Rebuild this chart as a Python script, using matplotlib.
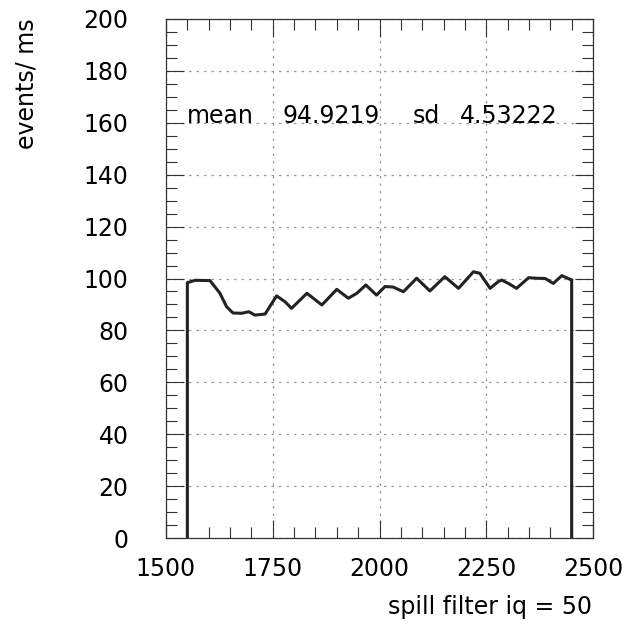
import matplotlib
matplotlib.use("Agg")
import matplotlib.pyplot as plt
from matplotlib.ticker import MultipleLocator

# spill profile: time bin (ms) and rate (events/ms)
time_ms = [1550, 1550, 1568, 1603, 1626, 1642, 1657, 1677, 1694, 1708, 1732,
           1759, 1779, 1794, 1830, 1865, 1900, 1927, 1947, 1968, 1993, 2013,
           2032, 2056, 2087, 2118, 2153, 2185, 2220, 2235, 2259, 2278, 2286,
           2302, 2321, 2349, 2368, 2388, 2407, 2427, 2450, 2450]
rate = [0, 98.4, 99.3, 99.2, 94.4, 89.1, 86.7, 86.6, 87.2, 85.9, 86.3,
        93.3, 91.0, 88.5, 94.3, 89.8, 95.8, 92.4, 94.3, 97.5, 93.6, 96.9,
        96.7, 94.9, 100.1, 95.2, 100.7, 96.2, 102.6, 102.0, 96.2, 98.8, 99.4,
        98.1, 96.2, 100.3, 100.1, 100.0, 98.1, 101.1, 99.4, 0]

mean_val = "94.9219"
sd_val = "4.53222"

plt.rcParams['font.family'] = ['DejaVu Sans']
FS = 17

fig = plt.figure(figsize=(6.34, 6.25), dpi=100)
ax = fig.add_axes([166/634, 87/625, 427/634, 519/625])

ax.plot(time_ms, rate, color='#222222', lw=2.2, solid_joinstyle='round')

ax.set_xlim(1500, 2500)
ax.set_ylim(0, 200)
ax.xaxis.set_major_locator(MultipleLocator(250))
ax.xaxis.set_minor_locator(MultipleLocator(50))
ax.yaxis.set_major_locator(MultipleLocator(20))
ax.yaxis.set_minor_locator(MultipleLocator(5))

ax.tick_params(which='both', direction='in', top=True, right=True,
               labelsize=FS, color='#333333', width=0.8)
ax.tick_params(which='major', length=13)
ax.tick_params(which='minor', length=8)
ax.tick_params(axis='x', which='major', pad=14)
ax.tick_params(axis='y', which='major', pad=27)

ax.grid(True, which='major', linestyle=(0, (2, 4)), color='#999999', lw=0.9)

for s in ax.spines.values():
    s.set_color('#333333')
    s.set_linewidth(0.9)

ax.text(1549, 160, "mean", fontsize=FS, va='baseline', ha='left')
ax.text(1774, 160, mean_val, fontsize=FS, va='baseline', ha='left')
ax.text(2078, 160, "sd", fontsize=FS, va='baseline', ha='left')
ax.text(2189, 160, sd_val, fontsize=FS, va='baseline', ha='left')

fig.text(592/634, 1 - 607/625, "spill filter iq = 50", fontsize=FS,
         ha='right', va='center')
fig.text(27/634, 1 - 18/625, "events/ ms", fontsize=FS, rotation=90,
         ha='center', va='top')

fig.savefig("out.png", dpi=100, facecolor='white')
